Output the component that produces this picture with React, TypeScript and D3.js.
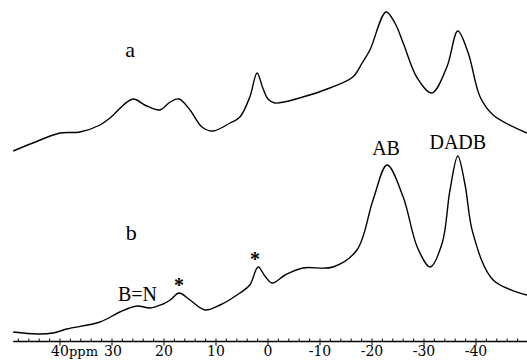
import React, { useEffect, useRef } from 'react';
import * as d3 from 'd3';

// chemical shift (ppm) and intensity
const ppmA = [49, 43.8, 40, 36.2, 32.3, 30.4, 26, 23.7, 20.8, 18.8, 17.1, 15, 12.7, 10.6, 7.3, 5.4, 3.5, 2.1, 1, 0, -1.3, -6.7, -11.9, -16.3, -18.1, -19.6, -22.7, -24.4, -26, -28.7, -31.5, -34.4, -36.5, -38.5, -40.8, -43.3, -49.8];
const intA = [4, 15, 22, 23, 30, 37, 56, 50, 45, 53, 56, 45, 28, 24, 32, 38, 58, 82, 67, 56, 52, 58, 67, 78, 92, 105, 143, 132, 112, 77, 62, 88, 124, 102, 58, 40, 22];

const ppmB = [49, 44.4, 41.3, 38.7, 32.3, 28.5, 25.2, 22.7, 20.2, 18.8, 17.1, 15, 12.1, 9.2, 5.4, 3.5, 1.9, 0.6, -0.8, -3.3, -6.7, -12.5, -17.1, -20.2, -22.9, -26, -28.7, -31.2, -33.5, -35, -36.5, -37.9, -39.4, -43.3, -49.8];
const intB = [3, 1, 2, 6, 13, 23, 29, 27, 31, 35, 42, 35, 25, 30, 42, 50, 68, 59, 52, 60, 67, 68, 85, 135, 170, 138, 88, 68, 92, 145, 179, 150, 102, 55, 40];

const majorTicks = [40, 30, 20, 10, 0, -10, -20, -30, -40];

// annotations: [text, ppm, level above trace baseline, trace]
const peakLabels: [string, number, number, string][] = [
  ['a', 26.5, 98, 'a'],
  ['AB', -22.7, 180, 'b'],
  ['DADB', -36.5, 186, 'b'],
  ['b', 26.3, 95, 'b'],
  ['B=N', 25.1, 34, 'b'],
  ['*', 17.1, 43, 'b'],
  ['*', 2.5, 69, 'b'],
];

const W = 527;
const H = 362;
const serif = '"Liberation Serif", "Times New Roman", serif';

export default function App() {
  const ref = useRef<SVGSVGElement>(null);

  useEffect(() => {
    const svg = d3.select(ref.current);
    svg.selectAll('*').remove();

    const x = d3.scaleLinear().domain([0, -10]).range([268, 320]);
    const axisY = 341.5;
    const base: Record<string, number> = { a: 155, b: 335 };
    const y = d3.scaleLinear().domain([0, 100]).range([0, 100]);

    const line = (ppm: number[], inten: number[], off: number) =>
      d3
        .line<number>()
        .x((d, i) => x(ppm[i]))
        .y((d) => off - y(d))
        .curve(d3.curveCatmullRom.alpha(0.5))(inten);

    [
      [ppmA, intA, base.a],
      [ppmB, intB, base.b],
    ].forEach(([p, v, off]) => {
      svg
        .append('path')
        .attr('d', line(p as number[], v as number[], off as number))
        .attr('fill', 'none')
        .attr('stroke', '#000')
        .attr('stroke-width', 1.4);
    });

    // axis
    const ax = svg.append('g');
    ax.append('line')
      .attr('x1', x(49))
      .attr('x2', W)
      .attr('y1', axisY)
      .attr('y2', axisY)
      .attr('stroke', '#000')
      .attr('stroke-width', 1.3);

    const minor = d3.range(48, -51, -2);
    ax.selectAll('.mt')
      .data(minor)
      .enter()
      .append('line')
      .attr('x1', (d) => x(d))
      .attr('x2', (d) => x(d))
      .attr('y1', (d) => (d % 10 === 0 ? axisY + 4 : axisY))
      .attr('y2', axisY - 3)
      .attr('stroke', '#000')
      .attr('stroke-width', 1);

    ax.selectAll('.tl')
      .data(majorTicks)
      .enter()
      .append('text')
      .attr('x', (d) => x(d) + (d === 30 ? 1 : 0))
      .attr('y', 356)
      .attr('text-anchor', 'middle')
      .attr('font-family', '"DejaVu Serif", serif')
      .attr('font-size', 14)
      .text((d) => String(d));

    ax.append('text')
      .attr('x', x(40) + 9)
      .attr('y', 356)
      .attr('font-family', '"DejaVu Serif", serif')
      .attr('font-size', 13)
      .text('ppm');

    svg
      .selectAll('.lab')
      .data(peakLabels)
      .enter()
      .append('text')
      .attr('x', (d) => x(d[1]))
      .attr('y', (d) => base[d[3]] - y(d[2]))
      .attr('text-anchor', 'middle')
      .attr('font-family', serif)
      .attr('font-weight', (d) => (d[0] === '*' ? 'bold' : 'normal'))
      .attr('font-size', (d) => (d[0].length === 1 && d[0] !== '*' ? 22 : 20))
      .text((d) => d[0]);
  }, []);

  return (
    <svg
      ref={ref}
      width={W}
      height={H}
      style={{ position: 'absolute', left: 0, top: 0, background: '#fff' }}
    />
  );
}
